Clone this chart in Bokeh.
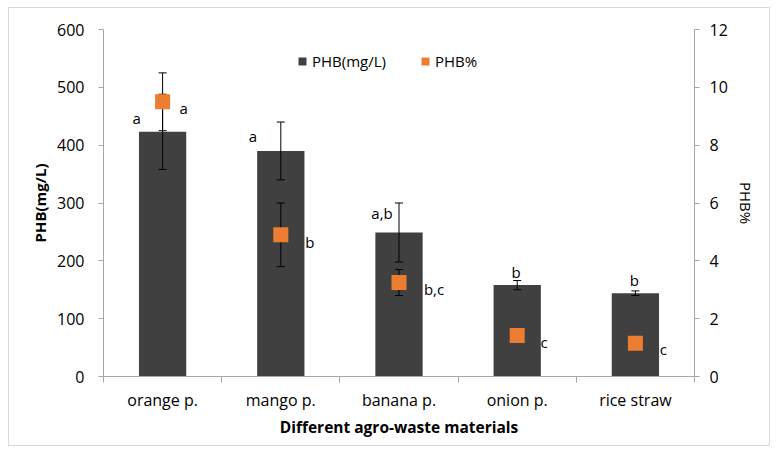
import numpy as np
from bokeh.plotting import figure
from bokeh.models import (Range1d, LinearAxis, FixedTicker, Legend, LegendItem,
                          ColumnDataSource)
from bokeh.core.properties import value
from bokeh.embed import file_html
from bokeh.resources import INLINE

# ---------------- data ----------------
categories = ["orange p.", "mango p.", "banana p.", "onion p.", "rice straw"]
phb_mgL = [423, 390, 249, 158, 144]
phb_mgL_err = [65, 50, 51, 8, 4]
phb_pct = [9.5, 4.9, 3.25, 1.42, 1.15]
phb_pct_err = [1.0, 1.1, 0.45, 0.0, 0.0]
bar_letters = ["a", "a", "a,b", "b", "b"]
pct_letters = ["a", "b", "b,c", "c", "c"]
left_ticks = [0, 100, 200, 300, 400, 500, 600]
right_ticks = [0, 2, 4, 6, 8, 10, 12]

# ---------------- styles ----------------
FONT = "Open Sans"
BAR_COLOR = "#404040"
ORANGE = "#ED7D31"
AXIS_COLOR = "#a6a6a6"
bar_lab_dx = [-26, -28, -17, -1, -1]
bar_lab_dy = [-14, -15, -19, -13, -13]
pct_lab_dx = [21, 29, 35, 27, 28]
pct_lab_dy = [6, 7, 6, 7, 6]

n = len(categories)
xpos = np.arange(n) + 0.5

p = figure(width=762, height=439, output_backend="svg", toolbar_location=None,
           x_range=Range1d(0, n), y_range=Range1d(0, 600),
           min_border_left=94, min_border_right=77, min_border_top=21,
           min_border_bottom=71)
p.styles = {"border": "1px solid #d9d9d9", "box-sizing": "border-box",
            "margin-left": "8px", "margin-top": "7px"}
p.outline_line_color = None
p.grid.visible = False
p.background_fill_color = "white"
p.border_fill_color = "white"
p.extra_y_ranges = {"pct": Range1d(0, 12)}

# bars
src = ColumnDataSource(dict(
    x=xpos, y=phb_mgL,
    lo=[v - e for v, e in zip(phb_mgL, phb_mgL_err)],
    hi=[v + e for v, e in zip(phb_mgL, phb_mgL_err)],
))
bars = p.vbar(x="x", top="y", bottom=0, width=0.4, source=src,
              fill_color=BAR_COLOR, line_color=None)

cap = 0.034
# bar error bars
p.segment(x0="x", x1="x", y0="lo", y1="hi", source=src, line_color="black", line_width=1)
p.segment(x0=xpos - cap, x1=xpos + cap, y0=src.data["hi"], y1=src.data["hi"],
          line_color="black", line_width=1)
p.segment(x0=xpos - cap, x1=xpos + cap, y0=src.data["lo"], y1=src.data["lo"],
          line_color="black", line_width=1)

# pct error bars (only where an error exists)
idx = [i for i, e in enumerate(phb_pct_err) if e > 0]
ex = xpos[idx]
elo = np.array([phb_pct[i] - phb_pct_err[i] for i in idx])
ehi = np.array([phb_pct[i] + phb_pct_err[i] for i in idx])
p.segment(x0=ex, x1=ex, y0=elo, y1=ehi, line_color="black", line_width=1, y_range_name="pct")
p.segment(x0=ex - cap, x1=ex + cap, y0=ehi, y1=ehi, line_color="black", line_width=1, y_range_name="pct")
p.segment(x0=ex - cap, x1=ex + cap, y0=elo, y1=elo, line_color="black", line_width=1, y_range_name="pct")

# pct squares
sq = p.rect(x=xpos, y=phb_pct, width=15, height=15, width_units="screen",
            height_units="screen", fill_color=ORANGE, line_color=None,
            y_range_name="pct")

# letters
p.text(x=xpos, y=phb_mgL, text=bar_letters, x_offset=bar_lab_dx, y_offset=bar_lab_dy,
       text_font=value(FONT), text_font_size="15px", text_align="center",
       text_baseline="alphabetic", text_color="black")
p.text(x=xpos, y=phb_pct, text=pct_letters, x_offset=pct_lab_dx, y_offset=pct_lab_dy,
       text_font=value(FONT), text_font_size="15px", text_align="center",
       text_baseline="alphabetic", text_color="black", y_range_name="pct")

# x axis
xa = p.xaxis[0]
xa.ticker = FixedTicker(ticks=list(xpos), minor_ticks=list(range(n + 1)))
xa.major_label_overrides = {float(x): c for x, c in zip(xpos, categories)}
xa.major_tick_line_color = None
xa.major_tick_out = 0
xa.major_tick_in = 0
xa.minor_tick_line_color = AXIS_COLOR
xa.minor_tick_out = 6
xa.minor_tick_in = 0
xa.axis_line_color = AXIS_COLOR
xa.major_label_standoff = 6
xa.major_label_text_font = FONT
xa.major_label_text_font_size = "16px"
xa.major_label_text_color = "black"
xa.axis_label = "Different agro-waste materials"
xa.axis_label_text_font = FONT
xa.axis_label_text_font_size = "15.5px"
xa.axis_label_text_font_style = "bold"
xa.axis_label_text_color = "black"
xa.axis_label_standoff = 2

# left axis
ya = p.yaxis[0]
ya.ticker = FixedTicker(ticks=left_ticks)
ya.minor_tick_line_color = None
ya.major_tick_out = 5
ya.major_tick_in = 0
ya.major_tick_line_color = AXIS_COLOR
ya.axis_line_color = AXIS_COLOR
ya.major_label_standoff = 14
ya.major_label_text_font = FONT
ya.major_label_text_font_size = "16px"
ya.major_label_text_color = "black"
ya.axis_label = "PHB(mg/L)"
ya.axis_label_text_font = FONT
ya.axis_label_text_font_size = "15px"
ya.axis_label_text_font_style = "bold"
ya.axis_label_text_color = "black"
ya.axis_label_standoff = 4

# right axis
ra = LinearAxis(y_range_name="pct", ticker=FixedTicker(ticks=right_ticks))
ra.minor_tick_line_color = None
ra.major_tick_out = 5
ra.major_tick_in = 0
ra.major_tick_line_color = AXIS_COLOR
ra.axis_line_color = AXIS_COLOR
ra.major_label_standoff = 10
ra.major_label_text_font = FONT
ra.major_label_text_font_size = "16px"
ra.major_label_text_color = "black"
ra.axis_label = "PHB%"
ra.axis_label_text_font = FONT
ra.axis_label_text_font_size = "15px"
ra.axis_label_text_font_style = "normal"
ra.axis_label_text_color = "black"
ra.axis_label_standoff = 5
p.add_layout(ra, "right")

# legend
legend = Legend(items=[LegendItem(label="PHB(mg/L)", renderers=[bars]),
                       LegendItem(label="PHB%", renderers=[sq])],
                orientation="horizontal", location=(194, 305),
                glyph_width=10, glyph_height=10, label_standoff=5, spacing=34,
                padding=0, margin=0, border_line_color=None,
                background_fill_alpha=0, label_text_font=FONT,
                label_text_font_size="15px", label_text_color="black")
p.add_layout(legend, "center")

open("out.html", "w").write(file_html(p, INLINE))
